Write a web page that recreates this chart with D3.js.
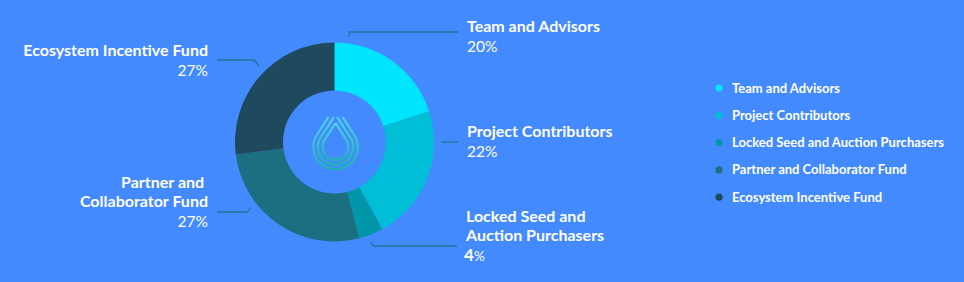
<!DOCTYPE html>
<html>
<head>
<meta charset="utf-8">
<script src="https://cdn.jsdelivr.net/npm/d3@7"></script>
<style>
  html, body { margin: 0; padding: 0; background: #448aff; }
  svg { display: block; }
  text { font-family: Lato, "Open Sans", sans-serif; fill: #fff; }
</style>
</head>
<body>
<svg id="chart" width="964" height="282"></svg>
<script>
// ======== Data ========
var categories = ['Team and Advisors', 'Project Contributors', 'Locked Seed and Auction Purchasers',
    'Partner and Collaborator Fund', 'Ecosystem Incentive Fund'];
var values = [20, 22, 4, 27, 27];
var colors = ['#00e5ff', '#00bed6', '#0096aa', '#1b6f80', '#1f4a5e'];
// label lines as they wrap in the callouts
var labelLines = [
    ['Team and Advisors'],
    ['Project Contributors'],
    ['Locked Seed and', 'Auction Purchasers'],
    ['Partner and\u00a0', 'Collaborator Fund'],
    ['Ecosystem Incentive Fund']
];

// ======== Layout (callout placement, not data) ========
// angle: where the leader leaves the ring (deg, clockwise from top)
// lineY: y of horizontal leader, endX: where it stops, textY: first baseline
var callouts = [
    {angle: 8,   lineY: 32,  endX: 458, textY: 32,  side: 1, vertical: true},
    {angle: 90,  lineY: 142, endX: 458, textY: 137, side: 1},
    {angle: 160, lineY: 246, endX: 457, textY: 222, side: 1},
    {angle: 232, lineY: 212, endX: 217, textY: 188, side: -1},
    {angle: 315, lineY: 60,  endX: 217, textY: 56,  side: -1}
];

var cx = 334.5, cy = 142, outerR = 99.5, innerR = 51.5;

var svg = d3.select('#chart');

var pie = d3.pie().sort(null).value(function (d) { return d; });
var arc = d3.arc().innerRadius(innerR).outerRadius(outerR);
var arcs = pie(values);

var g = svg.append('g').attr('transform', 'translate(' + cx + ',' + cy + ')');

g.selectAll('path.slice')
    .data(arcs)
    .enter()
    .append('path')
    .attr('class', 'slice')
    .attr('d', arc)
    .attr('fill', function (d, i) { return colors[i]; });

// ======== Centre icon (three nested drops) ========
var defs = svg.append('defs');
var grad = defs.append('linearGradient')
    .attr('id', 'dropgrad').attr('x1', 0).attr('y1', 0).attr('x2', 0).attr('y2', 1);
grad.append('stop').attr('offset', '0%').attr('stop-color', '#52d3e6');
grad.append('stop').attr('offset', '100%').attr('stop-color', '#1fb3b0');

var dropCx = 335.5, dropCy = 147, baseR = 13, dropApex = 24, gap = 4.6, topCut = 117;
var alpha = Math.asin(baseR / dropApex);
[0, 1, 2].forEach(function (k) {
    var r = baseR + k * gap;
    var apexY = dropCy - r / Math.sin(alpha);
    var tx = r * Math.cos(alpha), ty = r * Math.sin(alpha);
    var lx = dropCx - tx, rx = dropCx + tx, py = dropCy - ty;
    var topY = Math.max(apexY, topCut);
    // where the tangent line reaches topY
    var f = (py - topY) / (py - apexY);
    var lTop = lx + (dropCx - lx) * f, rTop = rx - (rx - dropCx) * f;
    var d = 'M' + lTop + ',' + topY + 'L' + lx + ',' + py +
        'A' + r + ',' + r + ' 0 1 0 ' + rx + ',' + py +
        'L' + rTop + ',' + topY;
    svg.append('path')
        .attr('d', d)
        .attr('fill', 'none')
        .attr('stroke', 'url(#dropgrad)')
        .attr('stroke-width', 2.2)
        .attr('stroke-linejoin', 'round');
});

// ======== Callouts ========
var leaderR = outerR + 7;
callouts.forEach(function (c, i) {
    var a = c.angle * Math.PI / 180;
    var sx = cx + leaderR * Math.sin(a), sy = cy - leaderR * Math.cos(a);
    var ex = c.vertical ? sx : sx + c.side * Math.abs(c.lineY - sy) * 0.7;
    var pts = [[sx, sy], [ex, c.lineY], [c.endX, c.lineY]];
    svg.append('path')
        .attr('d', d3.line()(pts))
        .attr('fill', 'none')
        .attr('stroke', '#1c7896')
        .attr('stroke-width', 1.3);

    var tx = c.side > 0 ? c.endX + 9 : c.endX - 9;
    var anchor = c.side > 0 ? 'start' : 'end';
    var t = svg.append('text')
        .attr('x', tx).attr('y', c.textY)
        .attr('text-anchor', anchor);
    labelLines[i].forEach(function (line, j) {
        t.append('tspan')
            .attr('x', tx)
            .attr('dy', j === 0 ? 0 : 19)
            .attr('font-size', 16)
            .attr('font-weight', 700)
            .text(line);
    });
    var pct = t.append('tspan')
        .attr('x', tx)
        .attr('dy', 20)
        .attr('font-size', 15.5)
        .attr('font-weight', 400);
    if (values[i] < 10) {
        // the small slice shows its number enlarged
        pct.attr('x', tx - 2);
        pct.append('tspan').attr('font-size', 17).attr('font-weight', 700).text(values[i]);
        pct.append('tspan').attr('font-size', 13.5).text('%');
    } else {
        pct.text(values[i] + '%');
    }
});

// ======== Legend ========
var legend = svg.append('g').attr('transform', 'translate(719,88)');
var items = legend.selectAll('g')
    .data(categories)
    .enter()
    .append('g')
    .attr('transform', function (d, i) { return 'translate(0,' + (i * 27.3) + ')'; });
items.append('circle')
    .attr('r', 3.6)
    .attr('fill', function (d, i) { return colors[i]; });
items.append('text')
    .attr('x', 13)
    .attr('y', 4.5)
    .attr('font-size', 13)
    .attr('font-weight', 700)
    .text(function (d) { return d; });
</script>
</body>
</html>
